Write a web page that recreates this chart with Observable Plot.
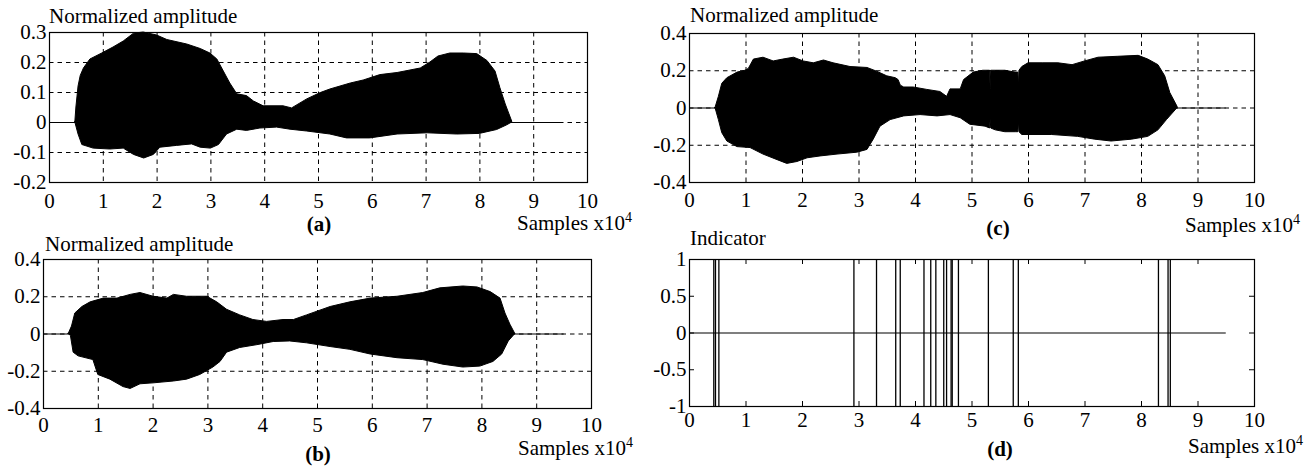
<!DOCTYPE html>
<html>
<head>
<meta charset="utf-8">
<script src="https://cdn.jsdelivr.net/npm/d3@7"></script>
<script src="https://cdn.jsdelivr.net/npm/@observablehq/plot@0.6"></script>
<style>
  html, body { margin: 0; padding: 0; background: #fff; }
  #root { position: relative; width: 1315px; height: 468px; overflow: hidden; background: #fff; }
  .panel { position: absolute; }
  .panel svg { max-width: none !important; }
  .panel svg text { font-family: "Liberation Serif", "Times New Roman", serif !important; font-size: 21px !important; fill: #000; }
  #labels { position: absolute; left: 0; top: 0; pointer-events: none; }
  #labels text { font-family: "Liberation Serif", "Times New Roman", serif; font-size: 21px; fill: #000; }
</style>
</head>
<body>
<div id="root"></div>
<script>
// ---------- data ----------
const xTicks = [0, 1, 2, 3, 4, 5, 6, 7, 8, 9, 10];
const xGrid = [1, 2, 3, 4, 5, 6, 7, 8, 9];
const yTicksA = [-0.2, -0.1, 0, 0.1, 0.2, 0.3];
const yGridA = [-0.1, 0, 0.1, 0.2];
const yTicksBC = [-0.4, -0.2, 0, 0.2, 0.4];
const yGridBC = [-0.2, 0, 0.2];
const yTicksD = [-1, -0.5, 0, 0.5, 1];
const signalEnd = 9.5; // samples x10^4

// (a) envelope
const upAx = [0.48,0.5,0.54,0.58,0.64,0.76,0.98,1.19,1.38,1.57,1.75,2.0,2.19,2.56,2.81,2.99,3.12,3.24,3.36,3.49,3.67,3.8,3.98,4.35,4.51,4.79,5.04,5.22,5.6,5.84,6.15,6.47,6.9,7.08,7.23,7.45,7.7,7.95,8.14,8.29,8.38,8.48,8.6];
const upAy = [0,0.05,0.12,0.155,0.18,0.21,0.23,0.25,0.27,0.296,0.30,0.29,0.275,0.26,0.245,0.23,0.21,0.17,0.13,0.094,0.088,0.07,0.054,0.054,0.047,0.077,0.098,0.11,0.13,0.14,0.158,0.165,0.18,0.2,0.22,0.23,0.23,0.228,0.205,0.17,0.115,0.06,0.003];
const loAx = [0.48,0.54,0.61,0.82,1.13,1.38,1.57,1.76,1.94,2.06,2.37,2.65,2.81,3.0,3.15,3.3,3.49,3.67,3.92,4.23,4.48,4.79,5.22,5.53,5.96,6.47,7.03,7.58,8.0,8.32,8.5,8.6];
const loAy = [0,-0.04,-0.075,-0.087,-0.09,-0.087,-0.108,-0.12,-0.108,-0.084,-0.078,-0.073,-0.084,-0.087,-0.075,-0.04,-0.024,-0.028,-0.02,-0.017,-0.024,-0.03,-0.04,-0.053,-0.053,-0.04,-0.036,-0.04,-0.038,-0.025,-0.01,0];

// (b) envelope
const upBx = [0.46,0.52,0.58,0.71,0.86,1.1,1.35,1.59,1.77,2.01,2.26,2.38,2.62,2.99,3.17,3.35,3.59,3.83,4.08,4.38,4.57,4.81,5.24,5.6,5.97,6.46,6.93,7.24,7.66,7.92,8.16,8.34,8.43,8.52,8.61];
const upBy = [0,0.04,0.11,0.145,0.17,0.19,0.19,0.21,0.22,0.2,0.19,0.21,0.2,0.2,0.17,0.13,0.1,0.075,0.065,0.075,0.075,0.1,0.145,0.17,0.19,0.2,0.22,0.245,0.255,0.25,0.225,0.19,0.11,0.05,0];
const loBx = [0.46,0.5,0.55,0.64,0.91,1.0,1.22,1.46,1.59,1.77,2.01,2.38,2.62,2.86,3.1,3.23,3.35,3.59,3.9,4.2,4.5,4.81,5.24,5.6,5.97,6.46,6.93,7.3,7.66,7.97,8.21,8.37,8.49,8.61];
const loBy = [0,-0.01,-0.1,-0.12,-0.14,-0.22,-0.245,-0.285,-0.295,-0.27,-0.265,-0.255,-0.245,-0.22,-0.18,-0.15,-0.1,-0.075,-0.06,-0.043,-0.04,-0.05,-0.07,-0.085,-0.11,-0.13,-0.14,-0.165,-0.18,-0.175,-0.15,-0.11,-0.04,0];

// (c) envelope
const upCx = [0.46,0.52,0.58,0.67,0.85,0.99,1.05,1.14,1.31,1.49,1.66,1.85,2.02,2.2,2.38,2.55,2.85,3.15,3.32,3.5,3.65,3.7,3.74,3.8,3.97,4.21,4.44,4.56,4.62,4.8,4.86,5.03,5.2,5.32,5.33,5.34,5.42,5.59,5.77,5.82,5.83,5.84,5.89,6.0,6.25,6.53,6.78,7.0,7.24,7.59,7.95,8.12,8.3,8.42,8.51,8.64];
const upCy = [0,0.06,0.13,0.16,0.19,0.2,0.21,0.26,0.27,0.25,0.26,0.27,0.25,0.24,0.255,0.24,0.22,0.215,0.195,0.17,0.16,0.15,0.12,0.11,0.11,0.097,0.086,0.06,0.1,0.1,0.15,0.19,0.2,0.2,0.1,0.2,0.2,0.2,0.19,0.19,0.11,0.2,0.22,0.24,0.24,0.24,0.23,0.25,0.27,0.275,0.28,0.26,0.23,0.17,0.08,0.005];
const loCx = [0.46,0.52,0.58,0.67,0.85,1.08,1.31,1.56,1.73,1.91,2.09,2.32,2.62,2.97,3.15,3.26,3.38,3.56,3.8,4.09,4.39,4.62,4.8,4.97,5.24,5.32,5.33,5.34,5.42,5.59,5.78,5.82,5.83,5.84,5.89,6.42,6.88,7.18,7.47,7.83,8.12,8.3,8.45,8.64];
const loCy = [0,-0.065,-0.135,-0.18,-0.21,-0.215,-0.25,-0.28,-0.30,-0.29,-0.27,-0.26,-0.25,-0.24,-0.225,-0.17,-0.1,-0.065,-0.045,-0.038,-0.045,-0.038,-0.055,-0.09,-0.1,-0.11,-0.06,-0.11,-0.12,-0.13,-0.13,-0.13,-0.07,-0.13,-0.145,-0.145,-0.155,-0.17,-0.18,-0.17,-0.155,-0.12,-0.065,0];

// (d) indicator positions (samples x10^4)
const indicatorX = [0.43,0.46,0.52,2.91,3.31,3.65,3.73,4.15,4.27,4.36,4.50,4.55,4.63,4.65,4.76,5.29,5.73,5.82,8.30,8.47,8.51];

// ---------- helpers ----------
const pts = (xs, ys) => xs.map((x, i) => ({x, y: ys[i]}));
const FONT = '"Liberation Serif", "Times New Roman", serif';
const fmt = d => String(d);
const root = document.getElementById("root");

function place(svg, left, top) {
  const div = document.createElement("div");
  div.className = "panel";
  div.style.left = left + "px";
  div.style.top = top + "px";
  div.appendChild(svg);
  root.appendChild(div);
}

function wavePanel({left, top, width, height, mL, mR, mT, mB, yDomain, yTicks, yGrid, up, lo, pad}) {
  return place(Plot.plot({
    width, height, marginLeft: mL, marginRight: mR, marginTop: mT, marginBottom: mB,
    style: {fontFamily: FONT, fontSize: "21px", background: "transparent", color: "#000"},
    x: {domain: [0, 10], ticks: xTicks, tickSize: 0, tickPadding: pad, tickFormat: fmt, label: null},
    y: {domain: yDomain, ticks: yTicks, tickSize: 0, tickPadding: 3, tickFormat: fmt, label: null},
    marks: [
      Plot.ruleX(xGrid, {stroke: "#000", strokeWidth: 1, strokeDasharray: "4.5,4"}),
      Plot.ruleY(yGrid, {stroke: "#000", strokeWidth: 1, strokeDasharray: "4.5,4"}),
      Plot.areaY(up, {x: "x", y1: () => 0, y2: "y", fill: "#000", stroke: "#000", strokeWidth: 1}),
      Plot.areaY(lo, {x: "x", y1: "y", y2: () => 0, fill: "#000", stroke: "#000", strokeWidth: 1}),
      Plot.ruleY([0], {x1: () => 0, x2: () => signalEnd, stroke: "#000", strokeWidth: 1.2}),
      Plot.frame({stroke: "#000", strokeWidth: 1.2})
    ]
  }), left, top);
}

// (a)
wavePanel({left: 0, top: 0, width: 620, height: 215, mL: 49, mR: 33, mT: 32, mB: 33,
  yDomain: [-0.2, 0.3], yTicks: yTicksA, yGrid: yGridA, up: pts(upAx, upAy), lo: pts(loAx, loAy), pad: 11});
// (c)
wavePanel({left: 640, top: 0, width: 640, height: 215, mL: 49, mR: 26, mT: 33, mB: 33,
  yDomain: [-0.4, 0.4], yTicks: yTicksBC, yGrid: yGridBC, up: pts(upCx, upCy), lo: pts(loCx, loCy), pad: 10});
// (b)
wavePanel({left: 0, top: 230, width: 620, height: 210, mL: 43, mR: 29, mT: 29, mB: 32,
  yDomain: [-0.4, 0.4], yTicks: yTicksBC, yGrid: yGridBC, up: pts(upBx, upBy), lo: pts(loBx, loBy), pad: 9});

// (d)
{
  const W = 640, H = 210, mL = 49, mR = 26, mT = 29, mB = 34;
  const fw = W - mL - mR, fh = H - mT - mB, tl = 5;
  const yDom = [-1, 1], xDom = [0, 10];
  const ty = tl / fh * (yDom[1] - yDom[0]);   // inward tick length in y units
  const tx = tl / fw * (xDom[1] - xDom[0]);   // inward tick length in x units
  place(Plot.plot({
    width: W, height: H, marginLeft: mL, marginRight: mR, marginTop: mT, marginBottom: mB,
    style: {fontFamily: FONT, fontSize: "21px", background: "transparent", color: "#000"},
    x: {domain: xDom, ticks: xTicks, tickSize: 0, tickPadding: 6, tickFormat: fmt, label: null},
    y: {domain: yDom, ticks: yTicksD, tickSize: 0, tickPadding: 3, tickFormat: fmt, label: null},
    marks: [
      Plot.ruleX(xTicks, {y1: () => yDom[1], y2: () => yDom[1] - ty, stroke: "#000"}),
      Plot.ruleX(xTicks, {y1: () => yDom[0], y2: () => yDom[0] + ty, stroke: "#000"}),
      Plot.ruleY(yTicksD, {x1: () => xDom[0], x2: () => xDom[0] + tx, stroke: "#000"}),
      Plot.ruleY(yTicksD, {x1: () => xDom[1], x2: () => xDom[1] - tx, stroke: "#000"}),
      Plot.ruleY([0], {x1: () => 0, x2: () => signalEnd, stroke: "#000", strokeWidth: 1.2}),
      Plot.ruleX(indicatorX, {y1: () => -1, y2: () => 1, stroke: "#000", strokeWidth: 1.3}),
      Plot.frame({stroke: "#000", strokeWidth: 1.2})
    ]
  }), 640, 230);
}

// ---------- text labels ----------
const titles = [
  {text: "Normalized amplitude", x: 49, y: 23},
  {text: "Normalized amplitude", x: 690, y: 22},
  {text: "Normalized amplitude", x: 45, y: 251},
  {text: "Indicator", x: 690, y: 245}
];
const panelTags = [
  {text: "(a)", x: 319, y: 231},
  {text: "(c)", x: 998, y: 235},
  {text: "(b)", x: 318, y: 461},
  {text: "(d)", x: 1000, y: 456}
];
const xLabels = [
  {x: 517, y: 230}, {x: 1185, y: 232}, {x: 518, y: 455}, {x: 1188, y: 453}
];
const NS = "http://www.w3.org/2000/svg";
const ov = document.createElementNS(NS, "svg");
ov.setAttribute("id", "labels");
ov.setAttribute("width", 1315);
ov.setAttribute("height", 468);
function addText(str, x, y, attrs = {}) {
  const t = document.createElementNS(NS, "text");
  t.setAttribute("x", x); t.setAttribute("y", y);
  for (const k in attrs) t.setAttribute(k, attrs[k]);
  t.textContent = str;
  ov.appendChild(t);
  return t;
}
titles.forEach(d => addText(d.text, d.x, d.y));
panelTags.forEach(d => addText(d.text, d.x, d.y, {"text-anchor": "middle", "font-weight": "bold"}));
xLabels.forEach(d => {
  const t = addText("Samples x10", d.x, d.y);
  const s = document.createElementNS(NS, "tspan");
  s.setAttribute("dy", "-8");
  s.setAttribute("font-size", "14");
  s.textContent = "4";
  t.appendChild(s);
});
root.appendChild(ov);
</script>
</body>
</html>
